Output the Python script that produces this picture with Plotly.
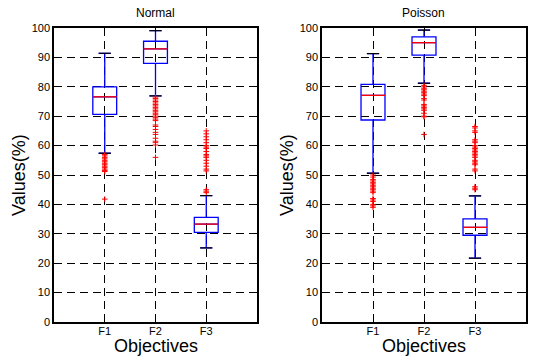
import plotly.graph_objects as go

categories = ["F1", "F2", "F3"]
positions = [1, 2, 3]

# Normal
normal_q1 = [70.6, 88.0, 30.5]
normal_median = [76.6, 92.9, 33.3]
normal_q3 = [80.0, 95.5, 35.6]
normal_lower = [57.4, 76.9, 25.2]
normal_upper = [91.4, 99.1, 43.0]
normal_out_f1 = [57, 56.5, 56, 55.5, 55, 54.5, 54, 53.5, 53, 52.5, 52, 51.5, 51.2, 41.8]
normal_out_f2 = [76.5, 76, 75.5, 75, 74.5, 74, 73.5, 73, 72.5, 72, 71.5, 71, 70.5, 70, 69.5,
                 69, 68.5, 67, 66.5, 65.5, 64.5, 63.8, 62.5, 61.5, 61, 60.2, 56]
normal_out_f3 = [65, 64, 63, 62, 61, 60, 59.5, 59, 58, 57, 56.5, 56, 55, 54, 53, 52, 51.4,
                 45, 44.5, 44]

# Poisson
poisson_q1 = [68.7, 90.8, 29.5]
poisson_median = [77.1, 95.0, 32.2]
poisson_q3 = [80.8, 97.0, 35.1]
poisson_lower = [50.6, 81.2, 21.7]
poisson_upper = [91.3, 99.3, 42.9]
poisson_out_f1 = [50, 49.3, 48.5, 48, 47.5, 47, 46.5, 46, 45.5, 45, 44.5, 44, 42, 41.5, 41,
                  40, 39.5, 39]
poisson_out_f2 = [80.5, 80, 79.5, 79, 78.5, 78, 77.5, 77, 76, 75.5, 74, 73.5, 73, 72.5, 72,
                  71, 70, 69.8, 63.8]
poisson_out_f3 = [66.5, 66, 65, 64.5, 62, 61.5, 61, 60, 59.5, 59, 58.5, 58, 57.5, 57, 56.5,
                  56, 55, 54.5, 54, 53.5, 52, 51.4, 46, 45.5, 45]

titles = ["Normal", "Poisson"]
x_title = "Objectives"
y_title = "Values(%)"
y_ticks = list(range(0, 101, 10))

BOX_W = 0.47
CAP_W = 0.24
FONT = "Liberation Sans, Arial, sans-serif"

fig = go.Figure()

panels = [
    ("x", "y", normal_q1, normal_median, normal_q3, normal_lower, normal_upper,
     [normal_out_f1, normal_out_f2, normal_out_f3]),
    ("x2", "y2", poisson_q1, poisson_median, poisson_q3, poisson_lower, poisson_upper,
     [poisson_out_f1, poisson_out_f2, poisson_out_f3]),
]

for xa, ya, q1, med, q3, lo, up, outs in panels:
    fig.add_trace(go.Box(
        x=positions, q1=q1, median=med, q3=q3, lowerfence=lo, upperfence=up,
        boxpoints=False, width=BOX_W, whiskerwidth=CAP_W / BOX_W,
        line=dict(color="#0000ff", width=1.3), fillcolor="rgba(0,0,0,0)",
        xaxis=xa, yaxis=ya, showlegend=False, hoverinfo="skip"))
    # median lines
    mx, my = [], []
    for p, m in zip(positions, med):
        mx += [p - BOX_W / 2, p + BOX_W / 2, None]
        my += [m, m, None]
    fig.add_trace(go.Scatter(x=mx, y=my, mode="lines", line=dict(color="#ff0000", width=1.3),
                             xaxis=xa, yaxis=ya, showlegend=False, hoverinfo="skip"))
    # whisker caps
    cx, cy = [], []
    for p, a, b in zip(positions, lo, up):
        cx += [p - CAP_W / 2, p + CAP_W / 2, None, p - CAP_W / 2, p + CAP_W / 2, None]
        cy += [a, a, None, b, b, None]
    fig.add_trace(go.Scatter(x=cx, y=cy, mode="lines", line=dict(color="#000000", width=1.2),
                             xaxis=xa, yaxis=ya, showlegend=False, hoverinfo="skip"))
    # outliers
    ox, oy = [], []
    for p, vals in zip(positions, outs):
        ox += [p] * len(vals)
        oy += vals
    fig.add_trace(go.Scatter(x=ox, y=oy, mode="markers",
                             marker=dict(symbol="cross-thin", size=4,
                                         line=dict(color="#ff0000", width=1)),
                             xaxis=xa, yaxis=ya, showlegend=False, hoverinfo="skip"))

axis_common = dict(
    showline=True, linecolor="black", linewidth=1.5, mirror="ticks",
    ticks="inside", ticklen=4, tickcolor="black", automargin=False,
    showgrid=True, gridcolor="black", gridwidth=1, griddash="8px,5px",
    zeroline=False, tickfont=dict(family=FONT, size=11, color="black"),
)

doms = [(54 / 548, 257 / 548), (322 / 548, 526 / 548)]
ydom = (1 - 322 / 357, 1 - 28 / 357)

for i, (d, ttl) in enumerate(zip(doms, titles)):
    sfx = "" if i == 0 else str(i + 1)
    xax = dict(axis_common, domain=list(d), range=[0, 4],
               tickvals=positions, ticktext=categories, anchor=f"y{sfx}")
    fig.update_layout(**{
        f"xaxis{sfx}": xax,
        f"yaxis{sfx}": dict(axis_common, domain=list(ydom), range=[0, 100],
                            tickvals=y_ticks, anchor=f"x{sfx}"),
    })
    try:
        fig.update_layout(**{f"xaxis{sfx}": dict(ticklabelstandoff=-2)})
    except Exception:
        pass
    fig.add_annotation(text=ttl, x=(d[0] + d[1]) / 2, y=1 - 13 / 357, xref="paper", yref="paper",
                       showarrow=False, font=dict(family=FONT, size=12, color="black"),
                       xanchor="center", yanchor="middle")
    fig.add_annotation(text=x_title, x=(d[0] + d[1]) / 2, y=1 - 346 / 357, xref="paper",
                       yref="paper", showarrow=False,
                       font=dict(family=FONT, size=18, color="black"),
                       xanchor="center", yanchor="middle")
    fig.add_annotation(text=y_title, x=d[0] - 35 / 548, y=(ydom[0] + ydom[1]) / 2,
                       xref="paper", yref="paper", showarrow=False, textangle=-90,
                       font=dict(family=FONT, size=18, color="black"),
                       xanchor="center", yanchor="middle")

fig.update_layout(
    width=548, height=357, margin=dict(l=0, r=0, t=0, b=0),
    paper_bgcolor="white", plot_bgcolor="white",
    font=dict(family=FONT, color="black"),
)

fig.write_html("out.html")
